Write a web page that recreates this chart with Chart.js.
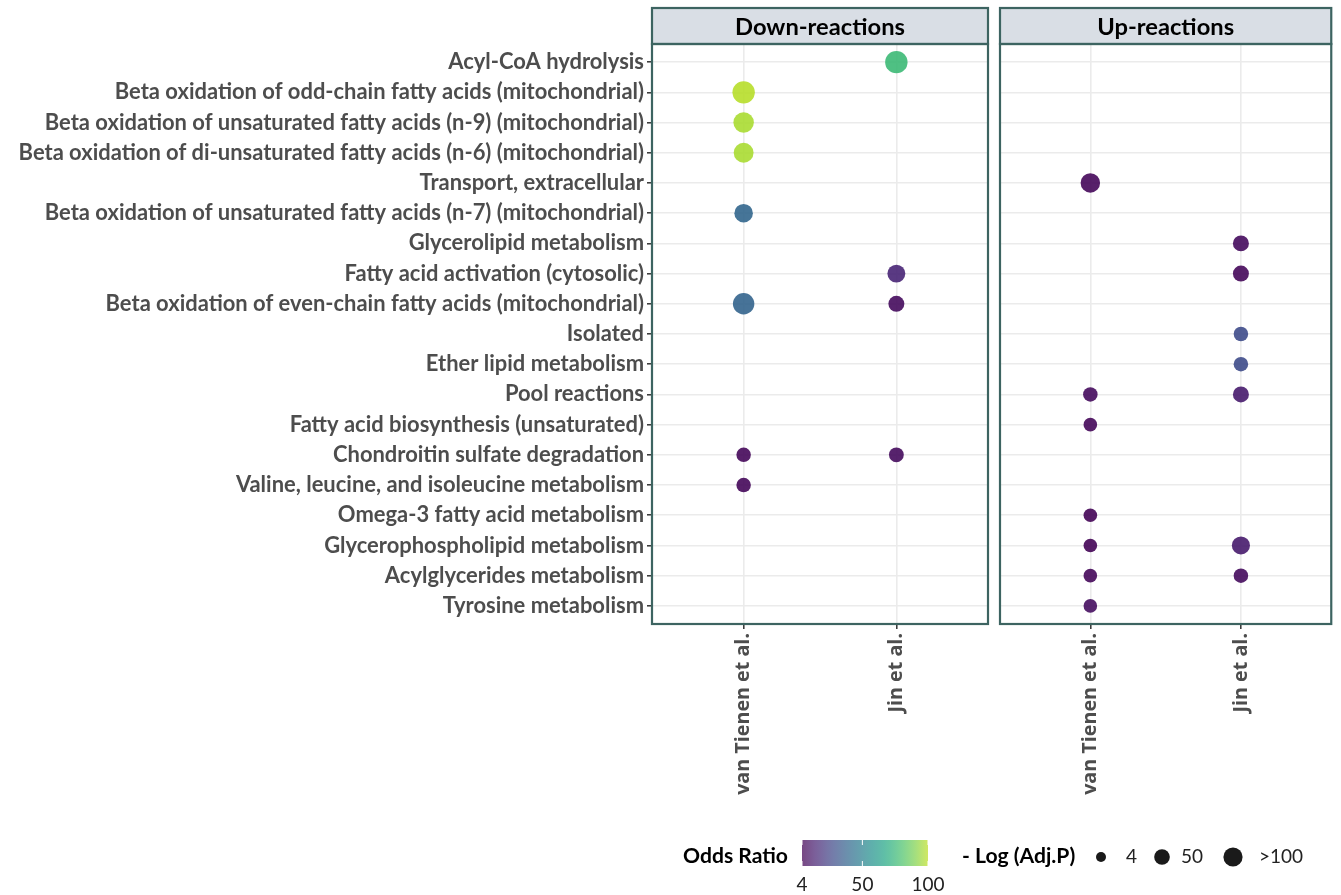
<!DOCTYPE html>
<html><head><meta charset="utf-8">
<script src="https://cdn.jsdelivr.net/npm/chart.js@4.4.1/dist/chart.umd.min.js"></script>
<style>
html,body{margin:0;padding:0;background:#fff;}
#wrap{position:relative;width:1341px;height:895px;overflow:hidden;background:#fff;}
canvas{position:absolute;display:block;}
</style></head><body>
<div id="wrap">
<canvas id="down" width="1020" height="895" style="left:0;top:0;width:1020px;height:895px"></canvas>
<canvas id="up" width="351" height="895" style="left:990px;top:0;width:351px;height:895px"></canvas>
<canvas id="legend" width="1341" height="67" style="left:0;top:828px;width:1341px;height:67px"></canvas>
</div>
<script>
// ---------------- DATA ----------------
const pathways = [
  "Acyl-CoA hydrolysis",
  "Beta oxidation of odd-chain fatty acids (mitochondrial)",
  "Beta oxidation of unsaturated fatty acids (n-9) (mitochondrial)",
  "Beta oxidation of di-unsaturated fatty acids (n-6) (mitochondrial)",
  "Transport, extracellular",
  "Beta oxidation of unsaturated fatty acids (n-7) (mitochondrial)",
  "Glycerolipid metabolism",
  "Fatty acid activation (cytosolic)",
  "Beta oxidation of even-chain fatty acids (mitochondrial)",
  "Isolated",
  "Ether lipid metabolism",
  "Pool reactions",
  "Fatty acid biosynthesis (unsaturated)",
  "Chondroitin sulfate degradation",
  "Valine, leucine, and isoleucine metabolism",
  "Omega-3 fatty acid metabolism",
  "Glycerophospholipid metabolism",
  "Acylglycerides metabolism",
  "Tyrosine metabolism"
];
const studies = ["van Tienen et al.", "Jin et al."];
const panels = ["Down-reactions", "Up-reactions"];

// Odds ratio (colour) and -log(adj.P) (size), one entry per pathway, null = no point
const downVanTienenOR   = [null, 99, 97, 97, null, 39, null, null, 38, null, null, null, null, 6, 6, null, null, null, null];
const downVanTienenLogP = [null, 110, 62, 53, null, 34, null, null, 80, null, null, null, null, 5, 5, null, null, null, null];
const downJinOR         = [76, null, null, null, null, null, null, 15, 7, null, null, null, null, 7, null, null, null, null, null];
const downJinLogP       = [120, null, null, null, null, null, null, 27, 11, null, null, null, null, 6, null, null, null, null, null];
const upVanTienenOR     = [null, null, null, null, 6, null, null, null, null, null, null, 7, 6, null, null, 5, 5, 6, 8];
const upVanTienenLogP   = [null, null, null, null, 47, null, null, null, null, null, null, 5, 4, null, null, 4, 4, 4, 4];
const upJinOR           = [null, null, null, null, null, null, 7, 6, null, 28, 28, 12, null, null, null, null, 12, 7, null];
const upJinLogP         = [null, null, null, null, null, null, 11, 11, null, 5, 5, 11, null, null, null, null, 29, 5, null];

const orTicks = [4, 50, 100];
const sizeTicks = [4, 50, 100];
const sizeTickLabels = ["4", "50", ">100"];

// ---------------- HELPERS ----------------
const VIR = ["#440154","#482475","#414487","#355f8d","#2a788e","#21918c","#22a884","#44bf70","#7ad151","#bddf26","#fde725"];
function hex2rgb(h){return [parseInt(h.slice(1,3),16),parseInt(h.slice(3,5),16),parseInt(h.slice(5,7),16)];}
function viridis(t){
  t=Math.max(0,Math.min(1,t));
  const p=t*10, i=Math.min(9,Math.floor(p)), f=p-i;
  const a=hex2rgb(VIR[i]), b=hex2rgb(VIR[i+1]);
  return a.map((v,k)=>Math.round(v+(b[k]-v)*f));
}
const OR_MIN=4, OR_MAX=100, PAL_END=0.9;
function orColor(or, alpha){
  const c=viridis((or-OR_MIN)/(OR_MAX-OR_MIN)*PAL_END);
  return `rgba(${c[0]},${c[1]},${c[2]},${alpha})`;
}
function radiusFor(lp){
  const v=Math.min(Math.max(lp,4),100);
  return 6.8+4.4*Math.sqrt((v-4)/96);
}
const HUM='Lato,"Noto Sans",sans-serif';
const WIDE='"Open Sans","DejaVu Sans",sans-serif';
const mctx=document.createElement('canvas').getContext('2d');
function fitSize(text, weight, family, width){
  mctx.font=`${weight} 100px ${family}`;
  return 100*width/mctx.measureText(text).width;
}
const yFont = fitSize(pathways[3], 'bold', HUM, 626);
const xFont = fitSize(studies[0], 'bold', WIDE, 162);
const stripFont = fitSize(panels[0], 'bold', HUM, 170);

function buildPoints(vtOR, vtP, jinOR, jinP){
  const pts=[];
  [[vtOR,vtP],[jinOR,jinP]].forEach((pair,s)=>{
    pair[0].forEach((or,i)=>{
      if(or!==null) pts.push({x:s+1, y:i+1, r:radiusFor(pair[1][i]), or:or});
    });
  });
  return pts;
}

const panelPlugin={
  id:'panelBox',
  afterDraw(chart, args, opts){
    const {ctx, chartArea:a}=chart;
    ctx.save();
    ctx.lineWidth=2.2; ctx.strokeStyle='#3d6461';
    ctx.fillStyle='#d9dee5';
    ctx.fillRect(a.left, 8, a.right-a.left, a.top-8);
    ctx.strokeRect(a.left, 8, a.right-a.left, a.top-8);
    ctx.strokeRect(a.left, a.top, a.right-a.left, a.bottom-a.top);
    ctx.fillStyle='#000';
    ctx.font=`bold ${stripFont}px ${HUM}`;
    ctx.textAlign='center'; ctx.textBaseline='middle';
    ctx.fillText(opts.title, (a.left+a.right)/2, (8+a.top)/2+1);
    ctx.restore();
  }
};

function makeChart(id, title, pts, yWidth, padRight, showY, targetRight){
  const ch = new Chart(document.getElementById(id), {
    type:'bubble',
    data:{datasets:[{
      data:pts,
      backgroundColor:ctx=>orColor(ctx.raw.or,0.9),
      hoverBackgroundColor:ctx=>orColor(ctx.raw.or,0.9),
      borderWidth:0, hoverBorderWidth:0
    }]},
    options:{
      responsive:false, animation:false, devicePixelRatio:1,
      layout:{padding:{top:44,right:padRight,bottom:0,left:0}},
      plugins:{legend:{display:false}, tooltip:{enabled:false}, panelBox:{title:title}},
      scales:{
        x:{
          type:'linear', min:0.4, max:2.6,
          afterBuildTicks:sc=>{sc.ticks=studies.map((_,i)=>({value:i+1}));},
          afterFit:sc=>{sc.height=271;},
          ticks:{callback:v=>studies[v-1], minRotation:90, maxRotation:90, autoSkip:false,
                 font:{family:WIDE,size:xFont,weight:'bold'}, color:'#4d4d4d', padding:4},
          grid:{color:'#ebebeb', lineWidth:1.6, tickColor:'#333', tickLength:5, tickWidth:1.5},
          border:{display:false}
        },
        y:{
          type:'linear', reverse:true, min:0.4, max:pathways.length+0.6,
          afterBuildTicks:sc=>{sc.ticks=pathways.map((_,i)=>({value:i+1}));},
          afterFit:sc=>{sc.width=yWidth;},
          ticks:{display:showY, callback:v=>pathways[v-1], autoSkip:false,
                 font:{family:HUM,size:yFont,weight:'bold'}, color:'#4d4d4d', padding:3},
          grid:{color:'#ebebeb', lineWidth:1.6, tickColor:'#333', tickLength:5, tickWidth:1.5, drawTicks:showY},
          border:{display:false}
        }
      }
    },
    plugins:[panelPlugin]
  });
  const d = ch.chartArea.right - targetRight;
  if (Math.abs(d) > 0.5) {
    ch.options.layout.padding.right = Math.max(0, padRight + d);
    ch.update();
  }
  return ch;
}

makeChart('down', panels[0], buildPoints(downVanTienenOR, downVanTienenLogP, downJinOR, downJinLogP), 652, 32, true, 988);
makeChart('up', panels[1], buildPoints(upVanTienenOR, upVanTienenLogP, upJinOR, upJinLogP), 10, 5, false, 346);

// ---------------- LEGEND ----------------
(function(){
  const c=document.getElementById('legend').getContext('2d');
  const oy=828;
  const Y=y=>y-oy;
  const titleSize=fitSize("Odds Ratio",'bold',HUM,105);
  c.fillStyle='#000';
  c.font=`bold ${titleSize}px ${HUM}`;
  c.textBaseline='middle'; c.textAlign='left';
  c.fillText("Odds Ratio", 683, Y(856));
  // colour bar
  const bx0=802, bx1=928, by0=840, by1=866;
  const g=c.createLinearGradient(bx0,0,bx1,0);
  for(let k=0;k<=20;k++){ g.addColorStop(k/20, orColor(OR_MIN+(OR_MAX-OR_MIN)*k/20,0.72)); }
  c.fillStyle=g; c.fillRect(bx0,Y(by0),bx1-bx0,by1-by0);
  const labSize=19;
  c.font=`normal ${labSize}px ${HUM}`;
  c.textAlign='center';
  orTicks.forEach(v=>{
    const x=bx0+(v-OR_MIN)/(OR_MAX-OR_MIN)*(bx1-bx0);
    c.strokeStyle='#fff'; c.lineWidth=1;
    c.beginPath(); c.moveTo(x,Y(by0)); c.lineTo(x,Y(by0+5)); c.moveTo(x,Y(by1-5)); c.lineTo(x,Y(by1)); c.stroke();
    c.fillStyle='#222';
    c.fillText(String(v), x, Y(885));
  });
  // size legend
  c.fillStyle='#000';
  c.font=`bold ${titleSize}px ${HUM}`;
  c.textAlign='left';
  c.fillText("- Log (Adj.P)", 962, Y(856));
  const cx=[1101,1162,1233], rr=[5,7.8,9.6], tx=[1126,1181,1259];
  sizeTicks.forEach((v,k)=>{
    c.fillStyle='#1a1a1a';
    c.beginPath(); c.arc(cx[k],Y(857),rr[k],0,Math.PI*2); c.fill();
    c.fillStyle='#222';
    c.font=`normal ${labSize}px ${HUM}`;
    c.fillText(sizeTickLabels[k], tx[k], Y(857));
  });
})();
</script>
</body></html>
